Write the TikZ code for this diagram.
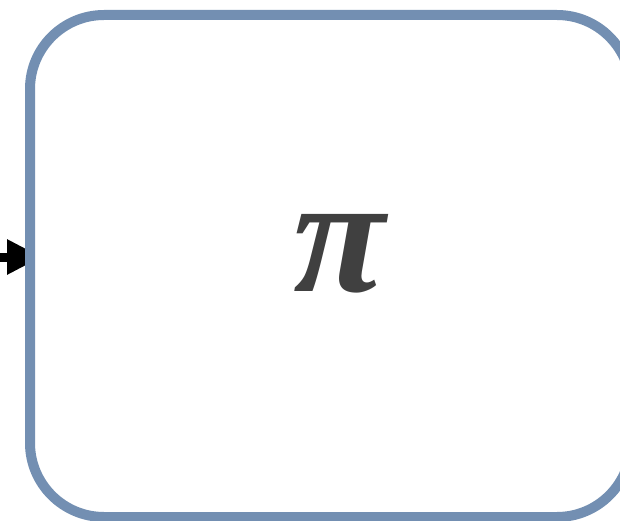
\documentclass[tikz,border=0pt]{standalone}
\usepackage{amsmath}
\usepackage{fontspec}
\usepackage{xcolor}
\usepackage{tikz}
\usetikzlibrary{arrows.meta, positioning, backgrounds}

\newfontfamily\pifont{Liberation Serif}
\definecolor{boxblue}{RGB}{115,143,178}
\definecolor{pigray}{RGB}{64,64,64}

\begin{document}
\begin{tikzpicture}[
    x=1pt, y=-1pt,
    box/.style={draw=boxblue, line width=10pt, rounded corners=74pt, outer sep=0pt,
        minimum width=601pt, minimum height=502pt, fill=white},
    symbol/.style={text=pigray, inner sep=0pt, font=\pifont\bfseries\itshape\fontsize{168}{168}\selectfont},
    arrow/.style={-{Triangle[length=35pt, width=33pt]}, line width=9pt, black}
]
    \useasboundingbox (0,0) rectangle (620,521);

    \node[box] (op) at (330.5,266) {};
    \node[symbol] (pi) at (339,254) {π};

    \coordinate (in) at (0,257);
    \begin{scope}[on background layer]
        \draw[arrow, shorten >=-12pt] (in) -- (in -| op.west);
    \end{scope}
\end{tikzpicture}
\end{document}
